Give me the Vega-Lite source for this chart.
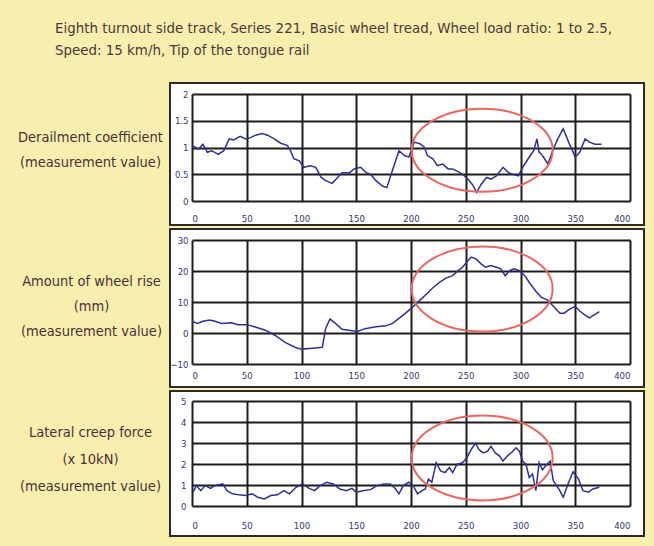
{
  "$schema": "https://vega.github.io/schema/vega-lite/v6.json",
  "background": "#f8efaf",
  "padding": {"left": 16, "top": 21, "right": 10, "bottom": 9},
  "autosize": {"type": "pad"},
  "title": {
    "text": ["Eighth turnout side track, Series 221, Basic wheel tread, Wheel load ratio: 1 to 2.5,", "Speed: 15 km/h, Tip of the tongue rail"],
    "anchor": "start",
    "frame": "group",
    "font": "DejaVu Sans Condensed, sans-serif",
    "fontSize": 14.9,
    "fontWeight": "normal",
    "color": "#4a3838",
    "lineHeight": 22,
    "dx": -115,
    "offset": 24
  },
  "datasets": {
    "d1": [
      {"x":0,"y":1.04},{"x":6,"y":0.97},{"x":10,"y":1.06},{"x":14,"y":0.91},{"x":18,"y":0.94},{"x":24,"y":0.87},{"x":29,"y":0.94},{"x":34,"y":1.16},{"x":38,"y":1.14},{"x":44,"y":1.21},{"x":49,"y":1.16},{"x":53,"y":1.18},{"x":58,"y":1.23},{"x":64,"y":1.26},{"x":69,"y":1.23},{"x":75,"y":1.16},{"x":81,"y":1.08},{"x":87,"y":1.04},{"x":90,"y":0.94},{"x":93,"y":0.79},{"x":98,"y":0.75},{"x":102,"y":0.63},{"x":108,"y":0.66},{"x":113,"y":0.63},{"x":118,"y":0.44},{"x":122,"y":0.38},{"x":128,"y":0.33},{"x":133,"y":0.44},{"x":137,"y":0.53},{"x":144,"y":0.53},{"x":148,"y":0.6},{"x":154,"y":0.63},{"x":159,"y":0.53},{"x":163,"y":0.5},{"x":168,"y":0.38},{"x":174,"y":0.28},{"x":178,"y":0.25},{"x":183,"y":0.57},{"x":189,"y":0.94},{"x":194,"y":0.85},{"x":198,"y":0.82},{"x":203,"y":1.1},{"x":208,"y":1.07},{"x":212,"y":1.01},{"x":215,"y":0.85},{"x":220,"y":0.79},{"x":224,"y":0.66},{"x":229,"y":0.69},{"x":234,"y":0.6},{"x":238,"y":0.6},{"x":243,"y":0.55},{"x":247,"y":0.5},{"x":252,"y":0.41},{"x":256,"y":0.31},{"x":260,"y":0.16},{"x":264,"y":0.31},{"x":269,"y":0.44},{"x":273,"y":0.41},{"x":278,"y":0.47},{"x":284,"y":0.63},{"x":289,"y":0.53},{"x":293,"y":0.5},{"x":298,"y":0.47},{"x":302,"y":0.63},{"x":307,"y":0.79},{"x":312,"y":0.94},{"x":315,"y":1.16},{"x":317,"y":0.91},{"x":319,"y":0.88},{"x":322,"y":0.79},{"x":325,"y":0.69},{"x":330,"y":0.97},{"x":334,"y":1.16},{"x":339,"y":1.35},{"x":344,"y":1.1},{"x":350,"y":0.82},{"x":354,"y":0.91},{"x":359,"y":1.16},{"x":363,"y":1.1},{"x":368,"y":1.06},{"x":374,"y":1.06}
    ],
    "d2": [
      {"x":0,"y":3.8},{"x":5,"y":3.1},{"x":10,"y":3.8},{"x":16,"y":4.2},{"x":21,"y":3.8},{"x":27,"y":3.1},{"x":36,"y":3.3},{"x":42,"y":2.7},{"x":50,"y":2.7},{"x":57,"y":2.0},{"x":67,"y":0.9},{"x":76,"y":-0.8},{"x":85,"y":-3.0},{"x":94,"y":-4.6},{"x":100,"y":-5.2},{"x":110,"y":-4.9},{"x":119,"y":-4.6},{"x":122,"y":1.4},{"x":126,"y":4.5},{"x":131,"y":3.1},{"x":137,"y":1.2},{"x":143,"y":0.9},{"x":151,"y":0.5},{"x":158,"y":1.4},{"x":168,"y":2.0},{"x":177,"y":2.3},{"x":183,"y":3.1},{"x":189,"y":4.7},{"x":195,"y":6.4},{"x":201,"y":8.2},{"x":207,"y":10.2},{"x":213,"y":12.2},{"x":220,"y":14.6},{"x":226,"y":16.3},{"x":232,"y":17.7},{"x":238,"y":18.5},{"x":243,"y":20.1},{"x":247,"y":21.2},{"x":251,"y":22.9},{"x":255,"y":24.5},{"x":259,"y":24.0},{"x":264,"y":22.3},{"x":268,"y":21.2},{"x":273,"y":21.8},{"x":278,"y":21.2},{"x":282,"y":20.7},{"x":286,"y":18.5},{"x":290,"y":20.1},{"x":294,"y":20.7},{"x":299,"y":20.1},{"x":304,"y":18.5},{"x":308,"y":16.3},{"x":314,"y":13.5},{"x":319,"y":11.5},{"x":324,"y":10.8},{"x":330,"y":8.6},{"x":336,"y":6.4},{"x":340,"y":6.4},{"x":345,"y":7.8},{"x":350,"y":8.6},{"x":354,"y":7.1},{"x":359,"y":5.8},{"x":363,"y":4.9},{"x":368,"y":6.0},{"x":372,"y":6.9}
    ],
    "d3": [
      {"x":1,"y":0.66},{"x":4,"y":0.97},{"x":8,"y":0.73},{"x":12,"y":0.97},{"x":17,"y":0.84},{"x":21,"y":0.97},{"x":28,"y":1.05},{"x":32,"y":0.73},{"x":37,"y":0.58},{"x":43,"y":0.53},{"x":49,"y":0.5},{"x":55,"y":0.58},{"x":60,"y":0.42},{"x":66,"y":0.34},{"x":72,"y":0.5},{"x":78,"y":0.53},{"x":84,"y":0.73},{"x":89,"y":0.58},{"x":95,"y":0.89},{"x":101,"y":1.05},{"x":107,"y":0.84},{"x":112,"y":0.73},{"x":117,"y":0.97},{"x":123,"y":1.13},{"x":129,"y":1.05},{"x":135,"y":0.81},{"x":141,"y":0.73},{"x":146,"y":0.84},{"x":150,"y":0.66},{"x":156,"y":0.73},{"x":163,"y":0.78},{"x":169,"y":0.97},{"x":175,"y":1.05},{"x":181,"y":1.05},{"x":186,"y":0.81},{"x":189,"y":0.58},{"x":193,"y":0.97},{"x":198,"y":1.13},{"x":202,"y":0.97},{"x":206,"y":0.58},{"x":210,"y":0.73},{"x":213,"y":0.81},{"x":216,"y":1.28},{"x":219,"y":1.13},{"x":223,"y":2.06},{"x":227,"y":1.67},{"x":231,"y":1.59},{"x":235,"y":1.83},{"x":238,"y":1.59},{"x":242,"y":1.98},{"x":247,"y":2.06},{"x":251,"y":2.3},{"x":255,"y":2.69},{"x":259,"y":3.0},{"x":262,"y":2.69},{"x":266,"y":2.53},{"x":270,"y":2.61},{"x":273,"y":2.84},{"x":277,"y":2.53},{"x":281,"y":2.38},{"x":284,"y":2.14},{"x":288,"y":2.38},{"x":293,"y":2.61},{"x":296,"y":2.77},{"x":299,"y":2.61},{"x":302,"y":2.14},{"x":305,"y":1.98},{"x":308,"y":1.36},{"x":311,"y":1.52},{"x":314,"y":0.73},{"x":317,"y":2.06},{"x":320,"y":1.72},{"x":324,"y":1.98},{"x":327,"y":2.14},{"x":330,"y":1.2},{"x":335,"y":0.81},{"x":339,"y":0.42},{"x":344,"y":1.13},{"x":348,"y":1.63},{"x":353,"y":1.28},{"x":357,"y":0.73},{"x":362,"y":0.66},{"x":366,"y":0.81},{"x":372,"y":0.89}
    ],
    "e1": [{"x":265,"y":0.95}],
    "e2": [{"x":265,"y":14.2}],
    "e3": [{"x":265,"y":2.29}]
  },
  "config": {
    "view": {"stroke": "#2a2a2a", "strokeWidth": 2, "fill": "white"},
    "font": "DejaVu Sans Condensed, sans-serif",
    "axis": {
      "grid": false, "domain": false,
      "ticks": true, "tickColor": "#1c1c1c", "tickWidth": 2, "tickOpacity": 1,
      "labelFont": "DejaVu Sans Condensed, sans-serif",
      "labelFontSize": 9.5, "labelColor": "#35356a",
      "titleFont": "DejaVu Sans Condensed, sans-serif",
      "titleFontSize": 14.5, "titleFontWeight": "normal", "titleColor": "#4a2f38",
      "titleAngle": 0, "titleAlign": "center", "titleBaseline": "middle", "titleLineHeight": 25
    }
  },
  "bounds": "flush",
  "spacing": 4,
  "vconcat": [
    {
      "width": 474, "height": 142,
      "encoding": {
        "x": {"field": "x", "type": "quantitative", "scale": {"domain": [0, 400], "nice": false, "range": [22, 460]},
              "axis": {"values": [0,50,100,150,200,250,300,350,400], "title": null, "offset": -24, "tickSize": -107, "labelPadding": 119}},
        "y": {"field": "y", "type": "quantitative", "scale": {"domain": [0, 2], "nice": false, "range": [118, 11]},
              "axis": {"values": [0,0.5,1,1.5,2], "format": "~r", "offset": -22, "tickSize": -438, "labelPadding": 442,
                       "title": ["Derailment coefficient", "(measurement value)"], "titleX": -102, "titleY": 54}}
      },
      "layer": [
        {"data": {"name": "d1"}, "mark": {"type": "line", "color": "#2e3192", "strokeWidth": 1.5}},
        {"data": {"name": "e1"}, "mark": {"type": "point", "shape": "M -70.5 0 A 70.5 41.5 0 1 1 70.5 0 A 70.5 41.5 0 1 1 -70.5 0 Z", "size": 4, "filled": false, "stroke": "#e8675f", "strokeWidth": 2, "opacity": 1}}
      ]
    },
    {
      "width": 474, "height": 158,
      "encoding": {
        "x": {"field": "x", "type": "quantitative", "scale": {"domain": [0, 400], "nice": false, "range": [22, 460]},
              "axis": {"values": [0,50,100,150,200,250,300,350,400], "title": null, "offset": -23, "tickSize": -124, "labelPadding": 130}},
        "y": {"field": "y", "type": "quantitative", "scale": {"domain": [-10, 30], "nice": false, "range": [135, 11]},
              "axis": {"values": [-10,0,10,20,30], "format": "d", "offset": -22, "tickSize": -438, "labelPadding": 442,
                       "title": ["Amount of wheel rise", "(mm)", "(measurement value)"], "titleX": -101, "titleY": 52}}
      },
      "layer": [
        {"data": {"name": "d2"}, "mark": {"type": "line", "color": "#2e3192", "strokeWidth": 1.5}},
        {"data": {"name": "e2"}, "mark": {"type": "point", "shape": "M -70.5 0 A 70.5 42.5 0 1 1 70.5 0 A 70.5 42.5 0 1 1 -70.5 0 Z", "size": 4, "filled": false, "stroke": "#e8675f", "strokeWidth": 2, "opacity": 1}}
      ]
    },
    {
      "width": 474, "height": 145,
      "encoding": {
        "x": {"field": "x", "type": "quantitative", "scale": {"domain": [0, 400], "nice": false, "range": [22, 460]},
              "axis": {"values": [0,50,100,150,200,250,300,350,400], "title": null, "offset": -30, "tickSize": -105, "labelPadding": 119}},
        "y": {"field": "y", "type": "quantitative", "scale": {"domain": [0, 5], "nice": false, "range": [115, 10]},
              "axis": {"values": [0,1,2,3,4,5], "format": "d", "offset": -22, "tickSize": -438, "labelPadding": 444,
                       "title": ["Lateral creep force", "(x 10kN)", "(measurement value)"], "titleX": -102, "titleY": 41, "titleLineHeight": 27}}
      },
      "layer": [
        {"data": {"name": "d3"}, "mark": {"type": "line", "color": "#2e3192", "strokeWidth": 1.5}},
        {"data": {"name": "e3"}, "mark": {"type": "point", "shape": "M -70.5 0 A 70.5 42.5 0 1 1 70.5 0 A 70.5 42.5 0 1 1 -70.5 0 Z", "size": 4, "filled": false, "stroke": "#e8675f", "strokeWidth": 2, "opacity": 1}}
      ]
    }
  ]
}
